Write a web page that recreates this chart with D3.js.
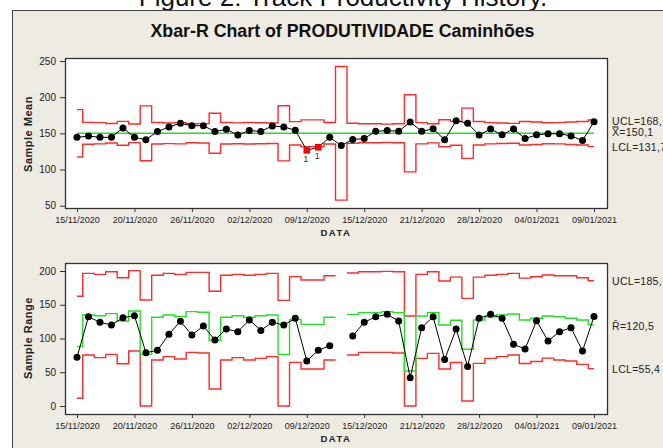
<!DOCTYPE html>
<html>
<head>
<meta charset="utf-8">
<script src="https://cdn.jsdelivr.net/npm/d3@7"></script>
<style>
  body { margin: 0; background: #fff; }
  svg text { font-family: "Liberation Sans", Arial, sans-serif; }
</style>
</head>
<body>
<div id="chart"></div>
<script>
// Sample index tick positions and their date labels
const tickIndex = [0, 5, 10, 15, 20, 25, 30, 35, 40, 45];
const tickDates = ["15/11/2020", "20/11/2020", "26/11/2020", "02/12/2020", "09/12/2020",
                   "15/12/2020", "21/12/2020", "28/12/2020", "04/01/2021", "09/01/2021"];

// Xbar chart values
const sampleMeans = [144.5, 146.3, 144.5, 144.5, 157.5, 144.5, 141.2, 152.5, 158.8, 163.8,
                     160.6, 160.6, 152.5, 155.5, 147.7, 154.0, 152.5, 160.3, 158.8, 154.4,
                     126.5, 130.8, 144.5, 133.2, 141.4, 142.8, 152.8, 153.9, 152.8, 165.7,
                     152.8, 156.2, 141.0, 167.5, 164.0, 147.7, 156.0, 148.0, 156.0, 142.8,
                     147.9, 149.4, 149.4, 146.5, 140.1, 165.9];
const meanUCL = [182.8, 165.2, 164.8, 163.6, 166.6, 163.0, 188.0, 165.0, 164.4, 164.7,
                 163.2, 163.5, 177.7, 165.0, 164.5, 165.0, 164.6, 164.3, 188.2, 166.2,
                 168.6, 168.6, 165.0, 242.5, 164.0, 163.2, 163.2, 162.8, 163.2, 203.4,
                 164.8, 163.3, 168.8, 166.6, 184.8, 166.3, 164.8, 164.3, 163.8, 166.3,
                 165.6, 164.6, 164.8, 165.6, 166.3, 168.5];
const meanLCL = [117.4, 135.0, 135.4, 136.6, 133.6, 137.2, 112.2, 135.2, 135.8, 135.5,
                 137.0, 136.7, 122.5, 135.2, 135.7, 135.2, 135.6, 135.9, 112.0, 134.0,
                 131.6, 131.6, 135.2, 57.7, 136.2, 137.0, 137.0, 137.4, 137.0, 96.8,
                 135.4, 136.9, 131.4, 133.6, 115.4, 133.9, 135.4, 135.9, 136.4, 133.9,
                 134.6, 135.6, 135.4, 134.6, 133.9, 131.7];
const meanCenter = 150.1;
const meanFlagged = [20, 21];
const meanLabels = ["UCL=168,", "X\u033F=150,1", "LCL=131,7"];

// R chart values (sample 23 has no range)
const sampleRanges = [72.1, 132.3, 124.0, 120.0, 130.9, 133.8, 79.0, 82.5, 106.2, 125.4,
                      105.2, 118.5, 97.8, 114.1, 110.1, 127.5, 112.0, 124.0, 120.0, 129.9,
                      66.7, 82.5, 89.4, null, 103.7, 124.0, 132.3, 135.8, 125.9, 42.0,
                      116.0, 132.3, 68.8, 114.1, 58.5, 129.9, 135.8, 129.9, 91.4, 84.4,
                      126.4, 96.3, 110.1, 116.0, 81.3, 132.5];
const rangeUCL = [162.5, 196.5, 195.0, 199.0, 190.0, 200.5, 157.0, 193.6, 196.5, 195.0,
                  198.0, 198.0, 170.0, 193.6, 195.0, 193.6, 195.0, 196.5, 156.5, 191.6,
                  186.7, 186.7, 193.0, null, 197.0, 199.0, 199.0, 199.5, 199.0, 133.3,
                  195.0, 199.0, 185.2, 191.0, 159.5, 191.0, 193.6, 195.0, 196.5, 189.5,
                  191.5, 194.0, 193.0, 193.0, 190.1, 185.6];
const rangeCenter = [87.9, 134.8, 133.8, 136.8, 125.9, 140.7, 76.5, 131.4, 134.8, 132.8,
                     139.8, 138.8, 97.3, 131.4, 133.8, 131.4, 133.8, 134.8, 76.5, 128.4,
                     121.0, 121.0, 131.4, null, 135.8, 138.3, 138.3, 139.8, 138.3, 51.9,
                     133.3, 138.3, 120.0, 127.0, 84.0, 127.4, 132.3, 134.8, 136.3, 127.4,
                     129.9, 133.3, 132.3, 129.9, 127.4, 120.5];
const rangeLCL = [11.4, 75.6, 71.6, 76.5, 62.7, 81.5, 0, 68.1, 73.1, 69.6,
                  79.5, 78.5, 25.2, 68.1, 71.6, 68.1, 70.6, 73.1, 0, 64.7,
                  54.8, 54.8, 68.1, null, 75.6, 79.5, 79.5, 79.5, 78.5, 0,
                  70.6, 78.0, 54.8, 64.5, 7.5, 63.2, 70.6, 73.1, 75.6, 63.0,
                  66.0, 71.0, 68.1, 66.7, 61.7, 55.4];
const rangeLabels = ["UCL=185,", "R\u0304=120,5", "LCL=55,4"];

const width = 663, height = 448;
const plotLeft = 65, plotRight = 607;

const svg = d3.select("#chart")
  .append("svg")
  .attr("width", width)
  .attr("height", height);

// figure caption, mostly cut off at the top
svg.append("text")
  .attr("x", 343)
  .attr("y", 5.5)
  .attr("text-anchor", "middle")
  .style("font-size", "26px")
  .attr("fill", "#111")
  .text("Figure 2: Track Productivity History.");

// Minitab graph window
svg.append("rect")
  .attr("x", 12.5)
  .attr("y", 10.5)
  .attr("width", 680)
  .attr("height", 460)
  .attr("fill", "#eeebe2")
  .attr("stroke", "#444")
  .attr("stroke-width", 1);

svg.append("text")
  .attr("x", 342.5)
  .attr("y", 36.7)
  .attr("text-anchor", "middle")
  .attr("textLength", 384)
  .attr("lengthAdjust", "spacingAndGlyphs")
  .style("font-size", "17.5px")
  .style("font-weight", "bold")
  .attr("fill", "#111")
  .text("Xbar-R Chart of PRODUTIVIDADE Caminh\u00f5es");

const x = d3.scaleLinear()
  .domain([0, 45])
  .range([77, 594]);

// build step points: each sample holds its limit from midpoint to midpoint
function stepPoints(vals) {
  const n = vals.length;
  const pts = [];
  vals.forEach((v, i) => {
    if (v == null) { pts.push(null); return; }
    pts.push({ i: i === 0 ? 0 : i - 0.5, v: v });
    pts.push({ i: i === n - 1 ? n - 1 : i + 0.5, v: v });
  });
  return pts;
}

function drawPanel(p) {
  const y = d3.scaleLinear()
    .domain(p.domain)
    .range(p.range);

  const g = svg.append("g");

  g.append("rect")
    .attr("x", plotLeft + 0.5)
    .attr("y", p.top + 0.5)
    .attr("width", plotRight - plotLeft)
    .attr("height", p.bottom - p.top)
    .attr("fill", "#fff")
    .attr("stroke", "#333")
    .attr("stroke-width", 1.3);

  // y axis
  const yAxis = g.append("g")
    .attr("transform", `translate(${plotLeft}, 0)`)
    .call(d3.axisLeft(y).tickValues(p.yTicks).tickSize(5).tickPadding(4));
  yAxis.select(".domain").remove();
  yAxis.selectAll(".tick line").attr("stroke", "#333");
  yAxis.selectAll(".tick text")
    .style("font-size", "10px")
    .attr("fill", "#222");

  // x axis
  const xAxis = g.append("g")
    .attr("transform", `translate(0, ${p.bottom})`)
    .call(d3.axisBottom(x)
      .tickValues(tickIndex)
      .tickFormat((d, i) => tickDates[i])
      .tickSize(4)
      .tickPadding(5));
  xAxis.select(".domain").remove();
  xAxis.selectAll(".tick line").attr("stroke", "#333");
  xAxis.selectAll(".tick text")
    .style("font-size", "9px")
    .attr("fill", "#222");

  g.append("text")
    .attr("x", 336)
    .attr("y", p.bottom + 28)
    .attr("text-anchor", "middle")
    .style("font-size", "9.5px")
    .style("font-weight", "bold")
    .style("letter-spacing", "1.5px")
    .attr("fill", "#222")
    .text("DATA");

  g.append("text")
    .attr("transform", `translate(32, ${p.labelY}) rotate(-90)`)
    .attr("text-anchor", "middle")
    .style("font-size", "11px")
    .style("font-weight", "bold")
    .style("letter-spacing", "0.5px")
    .attr("fill", "#222")
    .text(p.yTitle);

  const step = d3.line()
    .defined(d => d !== null)
    .x(d => x(d.i))
    .y(d => y(d.v));

  // control limits
  [p.ucl, p.lcl].forEach(vals => {
    g.append("path")
      .datum(stepPoints(vals))
      .attr("fill", "none")
      .attr("stroke", "#ff2a2a")
      .attr("stroke-width", 1.4)
      .attr("d", step);
  });

  // center line
  g.append("path")
    .datum(stepPoints(p.center))
    .attr("fill", "none")
    .attr("stroke", "#22e022")
    .attr("stroke-width", 1.4)
    .attr("d", step);

  const pts = p.values.map((v, i) => ({ i: i, v: v }));

  g.append("path")
    .datum(pts)
    .attr("fill", "none")
    .attr("stroke", "#000")
    .attr("stroke-width", 1)
    .attr("d", d3.line()
      .defined(d => d.v != null)
      .x(d => x(d.i))
      .y(d => y(d.v)));

  const shown = pts.filter(d => d.v != null);

  g.selectAll(".pt")
    .data(shown.filter(d => !p.flagged.includes(d.i)))
    .join("circle")
    .attr("class", "pt")
    .attr("cx", d => x(d.i))
    .attr("cy", d => y(d.v))
    .attr("r", 3.5)
    .attr("fill", "#000");

  const flagged = shown.filter(d => p.flagged.includes(d.i));
  g.selectAll(".flag")
    .data(flagged)
    .join("rect")
    .attr("class", "flag")
    .attr("x", d => x(d.i) - 3.3)
    .attr("y", d => y(d.v) - 3.3)
    .attr("width", 6.6)
    .attr("height", 6.6)
    .attr("fill", "#f00");

  g.selectAll(".flag-label")
    .data(flagged)
    .join("text")
    .attr("class", "flag-label")
    .attr("x", d => x(d.i) - 1)
    .attr("y", d => y(d.v) + 12)
    .attr("text-anchor", "middle")
    .style("font-size", "9px")
    .attr("fill", "#333")
    .text("1");

  // limit labels on the right
  g.selectAll(".lim-label")
    .data(p.labels)
    .join("text")
    .attr("class", "lim-label")
    .attr("x", 612)
    .attr("y", (d, i) => p.labelPos[i])
    .style("font-size", "10.5px")
    .style("letter-spacing", "0.3px")
    .attr("fill", "#222")
    .text(d => d);
}

drawPanel({
  top: 58, bottom: 208,
  domain: [50, 250], range: [205.7, 61],
  yTicks: [50, 100, 150, 200, 250],
  yTitle: "Sample Mean", labelY: 134,
  values: sampleMeans,
  ucl: meanUCL, lcl: meanLCL,
  center: sampleMeans.map(() => meanCenter),
  flagged: meanFlagged,
  labels: meanLabels, labelPos: [125, 135.5, 150.5]
});

drawPanel({
  top: 263, bottom: 414,
  domain: [0, 200], range: [406, 271],
  yTicks: [0, 50, 100, 150, 200],
  yTitle: "Sample Range", labelY: 338,
  values: sampleRanges,
  ucl: rangeUCL, lcl: rangeLCL,
  center: rangeCenter,
  flagged: [],
  labels: rangeLabels, labelPos: [285, 330, 372.5]
});
</script>
</body>
</html>
